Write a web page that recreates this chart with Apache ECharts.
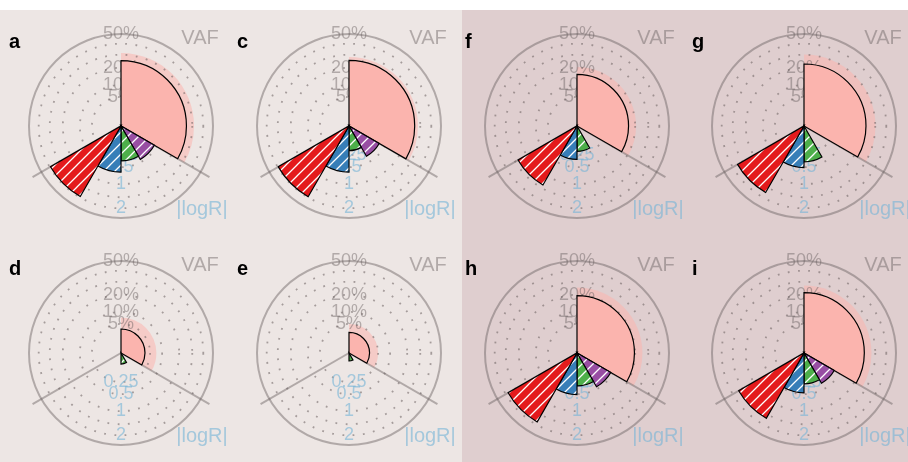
<!DOCTYPE html>
<html><head><meta charset="utf-8">
<script src="https://cdn.jsdelivr.net/npm/echarts@6/dist/echarts.min.js"></script>
<style>html,body{margin:0;padding:0;background:#fff}#c{width:908px;height:462px}</style>
</head><body><div id="c"></div>
<script>
// ---------------- data ----------------
const panelNames = ['a', 'c', 'f', 'g', 'd', 'e', 'h', 'i'];
const vafMain   = [25.3, 25.5, 15.7, 22.7, 3.4, 2.5, 19.5, 21.5];   // VAF (%)
const vafUpper  = [31.5, 28.1, 20.6, 30.2, 7.4, 5.0, 25.3, 26.9];   // upper VAF (%)
const logRRed    = [1.96, 1.97, 1.37, 1.74, 0, 0, 1.87, 1.68];
const logRBlue   = [0.63, 0.63, 0.33, 0.51, 0, 0, 0.51, 0.47];
const logRGreen  = [0.36, 0.18, 0.19, 0.38, 0.036, 0.019, 0.32, 0.28];
const logRPurple = [0.44, 0.36, 0, 0, 0, 0, 0.45, 0.36];
const vafTickVals = [5, 10, 20, 50];
const vafTickLabels = ['5%', '10%', '20%', '50%'];
const logRTickVals = [0.25, 0.5, 1, 2];
const logRTickLabels = ['0.25', '0.5', '1', '2'];
const ringVals = [5, 10, 20, 30, 40];          // dotted rings (VAF %)
const VAF_MAX = 50;                             // outer circle (VAF %)
const LOGR_TO_VAF = 20;                         // |logR| 1 <-> VAF 20%

// ---------------- layout / style ----------------
const colX = [121, 349, 577, 804], rowY = [126, 353];
const centers = [[0,0],[1,0],[2,0],[3,0],[0,1],[1,1],[2,1],[3,1]].map(([c, r]) => [colX[c], rowY[r]]);
const R = 92;
const FONT = '"Liberation Sans", Arial, Helvetica, sans-serif';
const GRAY = 'rgba(105,95,95,0.45)';
const BLUE_T = 'rgba(120,180,215,0.62)';
const COL = { pink: '#fbb4ae', pinkLight: 'rgba(251,180,174,0.55)', red: '#e41a1c', blue: '#377eb8', green: '#4daf4a', purple: '#984ea3' };

function hatch(color) {
  const T = 11, c = document.createElement('canvas');
  c.width = T; c.height = T;
  const g = c.getContext('2d');
  g.fillStyle = color; g.fillRect(0, 0, T, T);
  g.strokeStyle = '#ffffff'; g.lineWidth = 1.3;
  g.beginPath();
  g.moveTo(-1, T + 1); g.lineTo(T + 1, -1);
  g.moveTo(-1, 1); g.lineTo(1, -1);
  g.moveTo(T - 1, T + 1); g.lineTo(T + 1, T - 1);
  g.stroke();
  return c;
}
const HATCH = { red: hatch(COL.red), blue: hatch(COL.blue), green: hatch(COL.green), purple: hatch(COL.purple) };

const sq = v => Math.sqrt(v);
const sqL = v => Math.sqrt(v * LOGR_TO_VAF);

function radPx(api, cs, v) { const p = api.coord([v, 0]); return Math.hypot(p[0] - cs.cx, p[1] - cs.cy); }
function angRad(api, cs, a) { const p = api.coord([sq(VAF_MAX), a]); return Math.atan2(p[1] - cs.cy, p[0] - cs.cx); }

function sectorRender(styleFn) {
  return function (params, api) {
    const cs = params.coordSys;
    const rv = api.value(0);
    if (!(rv > 0)) return null;
    return {
      type: 'sector',
      shape: { cx: cs.cx, cy: cs.cy, r0: 0, r: radPx(api, cs, rv),
               startAngle: angRad(api, cs, api.value(1)), endAngle: angRad(api, cs, api.value(2)), clockwise: true },
      style: styleFn(params.dataIndex)
    };
  };
}

const polar = [], angleAxis = [], radiusAxis = [], series = [], graphic = [];

graphic.push({ type: 'rect', z: -10, silent: true, shape: { x: 0, y: 10, width: 462, height: 452 }, style: { fill: '#ede6e4' } });
graphic.push({ type: 'rect', z: -10, silent: true, shape: { x: 462, y: 10, width: 446, height: 452 }, style: { fill: '#dfcecf' } });

panelNames.forEach((name, i) => {
  const [cx, cy] = centers[i];
  polar.push({ center: [cx, cy], radius: R });
  angleAxis.push({ polarIndex: i, type: 'value', min: 0, max: 360, startAngle: 90, clockwise: true,
    axisLine: { show: true, lineStyle: { color: GRAY, width: 2 } },
    axisTick: { show: false }, axisLabel: { show: false }, splitLine: { show: false } });
  radiusAxis.push({ polarIndex: i, type: 'value', min: 0, max: sq(VAF_MAX),
    axisLine: { show: false }, axisTick: { show: false }, axisLabel: { show: false }, splitLine: { show: false } });

  // upper VAF light sector
  series.push({ type: 'custom', coordinateSystem: 'polar', polarIndex: i, z: 2, silent: true,
    data: [[sq(vafUpper[i]), 0, 120]],
    renderItem: sectorRender(() => ({ fill: COL.pinkLight })) });

  // dotted rings
  series.push({ type: 'custom', coordinateSystem: 'polar', polarIndex: i, z: 3, silent: true,
    data: ringVals.map(v => [sq(v), 0]),
    renderItem: (params, api) => {
      const cs = params.coordSys;
      return { type: 'circle', shape: { cx: cs.cx, cy: cs.cy, r: radPx(api, cs, api.value(0)) },
        style: { fill: 'none', stroke: 'rgba(105,95,95,0.55)', lineWidth: 1.8, lineDash: [1.8, 8.5] } };
    } });

  // separator lines at 120° and 240°
  series.push({ type: 'custom', coordinateSystem: 'polar', polarIndex: i, z: 3, silent: true,
    data: [[sq(VAF_MAX), 120], [sq(VAF_MAX), 240]],
    renderItem: (params, api) => {
      const cs = params.coordSys;
      const p = api.coord([api.value(0), api.value(1)]);
      const k = 1.11;
      return { type: 'line', shape: { x1: cs.cx, y1: cs.cy, x2: cs.cx + (p[0] - cs.cx) * k, y2: cs.cy + (p[1] - cs.cy) * k },
        style: { stroke: GRAY, lineWidth: 2 } };
    } });

  // tick labels (VAF up, |logR| down)
  const tickData = vafTickVals.map(v => [sq(v), 0]).concat(logRTickVals.map(v => [sqL(v), 180]));
  const tickText = vafTickLabels.concat(logRTickLabels);
  series.push({ type: 'custom', coordinateSystem: 'polar', polarIndex: i, z: 4, silent: true,
    data: tickData,
    renderItem: (params, api) => {
      const p = api.coord([api.value(0), api.value(1)]);
      const isVaf = params.dataIndex < vafTickVals.length;
      return { type: 'text', x: p[0], y: p[1],
        style: { text: tickText[params.dataIndex], fill: isVaf ? GRAY : BLUE_T, font: '18px ' + FONT, align: 'center', verticalAlign: 'middle' } };
    } });

  // VAF sector
  series.push({ type: 'custom', coordinateSystem: 'polar', polarIndex: i, z: 5, silent: true,
    data: [[sq(vafMain[i]), 0, 120]],
    renderItem: sectorRender(() => ({ fill: COL.pink, stroke: '#000', lineWidth: 1.2 })) });

  // |logR| sectors
  const lr = [[sqL(logRPurple[i]), 120, 150], [sqL(logRGreen[i]), 150, 180], [sqL(logRBlue[i]), 180, 210], [sqL(logRRed[i]), 210, 240]];
  const lrFill = [HATCH.purple, HATCH.green, HATCH.blue, HATCH.red];
  series.push({ type: 'custom', coordinateSystem: 'polar', polarIndex: i, z: 5, silent: true,
    data: lr,
    renderItem: sectorRender(idx => ({ fill: { image: lrFill[idx], repeat: 'repeat' }, stroke: '#000', lineWidth: 1.2 })) });

  // panel letter and axis names
  graphic.push({ type: 'text', z: 10, silent: true, x: cx - 112, y: cy - 94,
    style: { text: name, font: 'bold 20px ' + FONT, fill: '#000', align: 'left', verticalAlign: 'alphabetic' } });
  graphic.push({ type: 'text', z: 10, silent: true, x: cx + 79, y: cy - 88,
    style: { text: 'VAF', font: '20px ' + FONT, fill: GRAY, align: 'center', verticalAlign: 'middle' } });
  graphic.push({ type: 'text', z: 10, silent: true, x: cx + 81, y: cy + 83,
    style: { text: '|logR|', font: '20px ' + FONT, fill: BLUE_T, align: 'center', verticalAlign: 'middle' } });
});

const chart = echarts.init(document.getElementById('c'), null, { renderer: 'canvas' });
chart.setOption({ animation: false, backgroundColor: '#ffffff', polar, angleAxis, radiusAxis, series, graphic });
</script></body></html>
